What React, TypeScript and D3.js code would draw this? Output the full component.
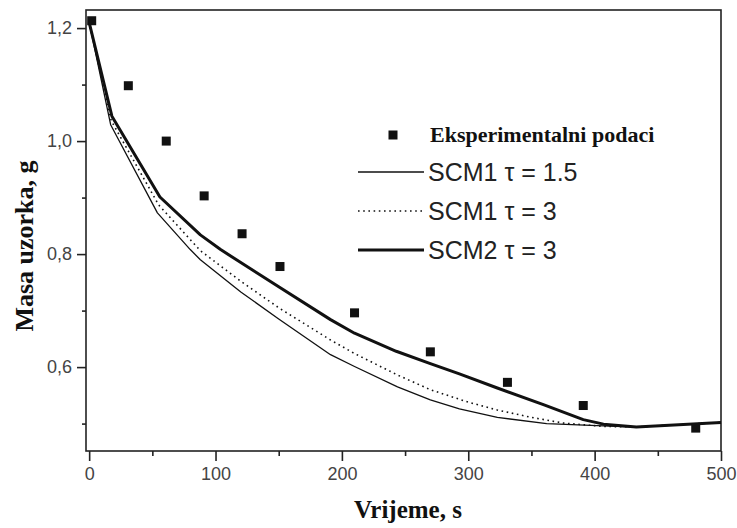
import { useEffect, useRef } from "react";
import * as d3 from "d3";

// experimental points
const expTime = [2, 31, 61, 91, 121, 151, 210, 270, 331, 391, 480];
const expMass = [1.213, 1.098, 1.0, 0.903, 0.836, 0.778, 0.696, 0.627, 0.573, 0.532, 0.492];

// SCM1 tau = 1.5
const scm1aTime = [0, 17, 54, 80, 88, 120, 150, 191, 210, 244, 270, 293, 323, 362, 407, 433, 500];
const scm1aMass = [1.21, 1.029, 0.873, 0.808, 0.79, 0.733, 0.685, 0.622, 0.601, 0.565, 0.542, 0.526, 0.511, 0.5, 0.496, 0.494, 0.502];

// SCM1 tau = 3
const scm1bTime = [0, 17.5, 55, 88, 120, 150, 191, 210, 244, 270, 300, 323, 350, 375, 407, 433, 500];
const scm1bMass = [1.21, 1.036, 0.887, 0.806, 0.752, 0.705, 0.648, 0.624, 0.586, 0.56, 0.538, 0.524, 0.511, 0.501, 0.495, 0.494, 0.502];

// SCM2 tau = 3
const scm2Time = [0, 18, 56, 88, 104, 150, 191, 210, 243, 270, 293, 323, 360, 391, 407, 433, 500];
const scm2Mass = [1.21, 1.044, 0.901, 0.834, 0.808, 0.742, 0.684, 0.66, 0.628, 0.606, 0.588, 0.563, 0.533, 0.507, 0.499, 0.494, 0.502];

const xMajor = [0, 100, 200, 300, 400, 500];
const xMinor = [50, 150, 250, 350, 450];
const yMajor = [0.6, 0.8, 1.0, 1.2];
const yMinor = [0.5, 0.7, 0.9, 1.1];

const legendLabels = ["Eksperimentalni podaci", "SCM1 \u03c4 = 1.5", "SCM1 \u03c4 = 3", "SCM2 \u03c4 = 3"];

const W = 737;
const H = 528;
const SANS = "'Liberation Sans', Arial, sans-serif";
const SERIF = "'Liberation Serif', 'Times New Roman', serif";

export default function App() {
  const svgRef = useRef<SVGSVGElement>(null);

  useEffect(() => {
    document.body.style.margin = "0";
    if (!svgRef.current) return;
    const svg = d3.select(svgRef.current);
    svg.selectAll("*").remove();

    const x = d3.scaleLinear().domain([-2.5, 500]).range([86, 721]);
    const y = d3.scaleLinear().domain([0.4515, 1.232]).range([451, 10]);

    svg.append("rect").attr("width", W).attr("height", H).attr("fill", "#fff");

    // frame
    svg
      .append("rect")
      .attr("x", x.range()[0])
      .attr("y", y.range()[1])
      .attr("width", x.range()[1] - x.range()[0])
      .attr("height", y.range()[0] - y.range()[1])
      .attr("fill", "none")
      .attr("stroke", "#222")
      .attr("stroke-width", 1.6);

    const styleAxis = (g: d3.Selection<SVGGElement, unknown, null, undefined>) => {
      g.select(".domain").remove();
      g.selectAll("line").attr("stroke", "#222").attr("stroke-width", 1.6);
      g.selectAll("text")
        .attr("fill", "#444")
        .style("font-size", "18px")
        .style("font-family", SANS);
    };

    // x axis
    svg
      .append("g")
      .attr("transform", `translate(0,${y.range()[0]})`)
      .call(d3.axisBottom(x).tickValues(xMajor).tickSize(10).tickPadding(6).tickFormat(d3.format("d")))
      .call(styleAxis);
    svg
      .append("g")
      .attr("transform", `translate(0,${y.range()[0]})`)
      .call(d3.axisBottom(x).tickValues(xMinor).tickSize(5).tickFormat(() => ""))
      .call(styleAxis);

    // y axis
    const commaFmt = (d: d3.NumberValue) => d3.format(".1f")(d as number).replace(".", ",");
    svg
      .append("g")
      .attr("transform", `translate(${x.range()[0]},0)`)
      .call(d3.axisLeft(y).tickValues(yMajor).tickSize(9).tickPadding(5).tickFormat(commaFmt))
      .call(styleAxis);
    svg
      .append("g")
      .attr("transform", `translate(${x.range()[0]},0)`)
      .call(d3.axisLeft(y).tickValues(yMinor).tickSize(4).tickFormat(() => ""))
      .call(styleAxis);

    // lines
    const line = d3
      .line<[number, number]>()
      .x((d) => x(d[0]))
      .y((d) => y(d[1]));

    const series = [
      { t: scm1aTime, m: scm1aMass, w: 1.3, dash: null },
      { t: scm1bTime, m: scm1bMass, w: 1.6, dash: "1.6,3.6" },
      { t: scm2Time, m: scm2Mass, w: 3, dash: null },
    ];
    series.forEach((s) => {
      const pts = s.t.map((t, i) => [t, s.m[i]] as [number, number]);
      svg
        .append("path")
        .attr("d", line(pts))
        .attr("fill", "none")
        .attr("stroke", "#111")
        .attr("stroke-width", s.w)
        .attr("stroke-linejoin", "round")
        .attr("stroke-dasharray", s.dash);
    });

    // squares
    const sq = 9;
    svg
      .append("g")
      .selectAll("rect")
      .data(expTime.map((t, i) => [t, expMass[i]]))
      .join("rect")
      .attr("x", (d) => x(d[0]) - sq / 2)
      .attr("y", (d) => y(d[1]) - sq / 2)
      .attr("width", sq)
      .attr("height", sq)
      .attr("fill", "#111");

    // legend
    const lg = svg.append("g");
    const rowY = [135, 172, 211, 250];
    lg.append("rect")
      .attr("x", 393 - 4.5)
      .attr("y", rowY[0] - 4.5)
      .attr("width", 9)
      .attr("height", 9)
      .attr("fill", "#111");
    lg.append("text")
      .attr("x", 430)
      .attr("y", rowY[0])
      .attr("dy", "0.33em")
      .style("font-family", SERIF)
      .style("font-weight", "bold")
      .style("font-size", "22px")
      .attr("fill", "#111")
      .text(legendLabels[0]);
    series.forEach((s, i) => {
      const yy = rowY[i + 1];
      lg.append("line")
        .attr("x1", 358)
        .attr("x2", 424)
        .attr("y1", yy)
        .attr("y2", yy)
        .attr("stroke", "#111")
        .attr("stroke-width", s.w)
        .attr("stroke-dasharray", s.dash);
      lg.append("text")
        .attr("x", 428)
        .attr("y", yy)
        .attr("dy", "0.36em")
        .style("font-family", SANS)
        .style("font-size", "25px")
        .attr("fill", "#222")
        .text(legendLabels[i + 1]);
    });

    // axis titles
    svg
      .append("text")
      .attr("x", 408)
      .attr("y", 518)
      .attr("text-anchor", "middle")
      .style("font-family", SERIF)
      .style("font-weight", "bold")
      .style("font-size", "25px")
      .attr("fill", "#111")
      .text("Vrijeme, s");
    svg
      .append("text")
      .attr("transform", "translate(33,246) rotate(-90)")
      .attr("text-anchor", "middle")
      .style("font-family", SERIF)
      .style("font-weight", "bold")
      .style("font-size", "26px")
      .attr("fill", "#111")
      .text("Masa uzorka, g");
  }, []);

  return <svg ref={svgRef} width={W} height={H} style={{ display: "block" }} />;
}
